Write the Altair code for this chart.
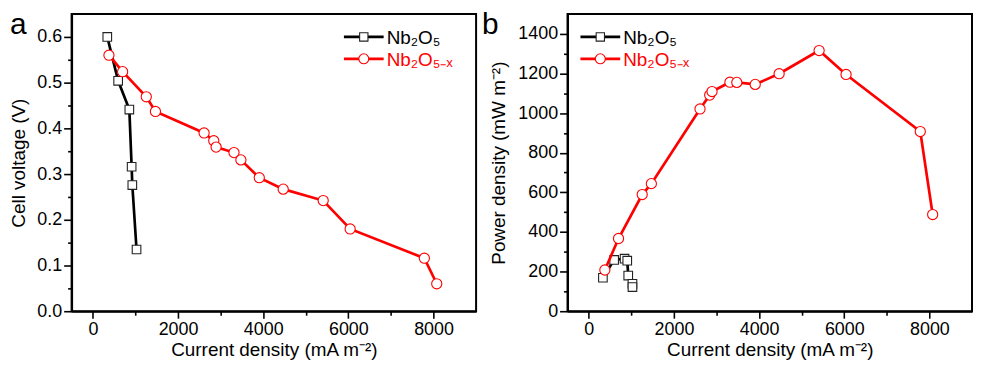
import altair as alt
import pandas as pd

# ---------------- data ----------------
# panel a: polarization curves
cur_a_black = [338, 593, 856, 910, 926, 1025]
volt_black = [0.600, 0.504, 0.441, 0.316, 0.276, 0.135]

cur_red = [377, 698, 1254, 1469, 2612, 2839, 2894, 3314, 3476, 3908, 4470, 5409, 6042, 7785, 8076]
volt_red = [0.560, 0.524, 0.469, 0.437, 0.390, 0.373, 0.359, 0.347, 0.331, 0.292, 0.267, 0.242, 0.180, 0.116, 0.060]

# panel b: power density curves
cur_b_black = [331, 595, 840, 903, 926, 1025, 1025]
power_black = [169, 259, 265, 255, 180, 138, 122]
power_red = [208, 367, 589, 644, 1021, 1091, 1109, 1156, 1155, 1145, 1199, 1316, 1195, 907, 488]

series_names = ["Nb₂O₅", "Nb₂O₅₋ₓ"]
x_ticks = [0, 1000, 2000, 3000, 4000, 5000, 6000, 7000, 8000]
ya_ticks = [0.0, 0.05, 0.1, 0.15, 0.2, 0.25, 0.3, 0.35, 0.4, 0.45, 0.5, 0.55, 0.6]
yb_ticks = [0, 100, 200, 300, 400, 500, 600, 700, 800, 900, 1000, 1100, 1200, 1300, 1400]

FONT = "Liberation Sans"
W, H = 407, 299


def frame(xs, ys, yname):
    return pd.DataFrame({"current": xs, yname: ys, "idx": list(range(len(xs)))})


def axis_common(**kw):
    return alt.Axis(
        grid=False, domainColor="black", domainWidth=2, tickColor="black", tickWidth=1.6,
        labelFont=FONT, labelFontSize=18, labelColor="black",
        titleFont=FONT, titleFontSize=19, titleFontWeight="normal", titleColor="black",
        **kw,
    )


x_axis = axis_common(
    values=x_ticks, format="d", title="Current density (mA m⁻²)",
    labelExpr="datum.value % 2000 === 0 ? datum.label : ''",
    tickSize={"condition": {"test": "datum.value % 2000 === 0", "value": 7}, "value": 4},
    labelPadding=2, titlePadding=3,
)


def panel(dfb, dfr, yname, ydomain, yaxis, letter, lx0, letter_x):
    x = alt.X("current:Q", scale=alt.Scale(domain=[-500, 9000], nice=False, zero=False), axis=x_axis)
    y = alt.Y(f"{yname}:Q", scale=alt.Scale(domain=ydomain, nice=False, zero=False), axis=yaxis)
    base_b = alt.Chart(dfb)
    base_r = alt.Chart(dfr)
    line_b = base_b.mark_line(color="black", strokeWidth=2.7).encode(x=x, y=y, order="idx:Q")
    pts_b = base_b.mark_point(shape="square", filled=True, fill="white", stroke="#222",
                              strokeWidth=1.1, size=75, opacity=1).encode(x=x, y=y)
    line_r = base_r.mark_line(color="#ff0000", strokeWidth=2.7).encode(x=x, y=y, order="idx:Q")
    pts_r = base_r.mark_point(shape="circle", filled=True, fill="white", stroke="#ff0000",
                              strokeWidth=1.1, size=105, opacity=1).encode(x=x, y=y)

    dummy = alt.Chart(pd.DataFrame({"k": [0]}))
    leg = []
    for i, (name, col, shp, sz) in enumerate([(series_names[0], "black", "square", 70),
                                               (series_names[1], "#ff0000", "circle", 100)]):
        ly = 23 + i * 22
        leg.append(dummy.mark_rule(color=col, strokeWidth=2.7).encode(
            x=alt.value(lx0), x2=alt.value(lx0 + 40), y=alt.value(ly)))
        leg.append(dummy.mark_point(shape=shp, filled=True, fill="white",
                                    stroke="#222" if i == 0 else col, strokeWidth=1.1,
                                    size=sz, opacity=1).encode(x=alt.value(lx0 + 20), y=alt.value(ly)))
        leg.append(dummy.mark_text(align="left", baseline="middle", font=FONT, fontSize=19,
                                   color=col).encode(x=alt.value(lx0 + 43), y=alt.value(ly + 1),
                                                     text=alt.value(name)))
    lab = dummy.mark_text(align="left", baseline="alphabetic", font=FONT, fontSize=30,
                          color="black").encode(x=alt.value(letter_x), y=alt.value(20),
                                                text=alt.value(letter))
    return alt.layer(line_b, pts_b, line_r, pts_r, *leg, lab).properties(width=W, height=H)


ya_axis = axis_common(
    values=ya_ticks, format=".1f", title="Cell voltage (V)",
    labelExpr="round(datum.value * 100) % 10 === 0 ? datum.label : ''",
    tickSize={"condition": {"test": "round(datum.value * 100) % 10 === 0", "value": 8}, "value": 4},
    labelPadding=2, titlePadding=8,
)
yb_axis = axis_common(
    values=yb_ticks, format="d", title="Power density (mW m⁻²)",
    labelExpr="datum.value % 200 === 0 ? datum.label : ''",
    tickSize={"condition": {"test": "datum.value % 200 === 0", "value": 8}, "value": 4},
    labelPadding=2, titlePadding=9,
)

pa = panel(frame(cur_a_black, volt_black, "v"), frame(cur_red, volt_red, "v"),
           "v", [0, 0.65], ya_axis, "a", 274, -62)
pb = panel(frame(cur_b_black, power_black, "p"), frame(cur_red, power_red, "p"),
           "p", [0, 1500], yb_axis, "b", 13, -86)

chart = alt.hconcat(pa, pb, spacing=4).properties(
    padding={"left": 0, "top": 0, "right": 0, "bottom": 0}
).configure_view(stroke="black", strokeWidth=2).configure_concat(spacing=4)

chart.save("out.html", embed_options={"renderer": "svg", "actions": False})
